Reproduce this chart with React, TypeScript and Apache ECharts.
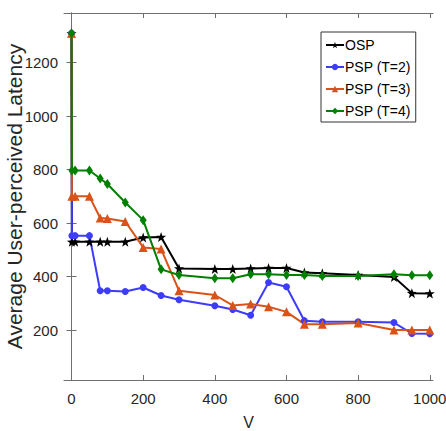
import React, { useEffect, useRef } from "react";
import * as echarts from "echarts";

const vValues = [0, 1, 10, 50, 80, 100, 150, 200, 250, 300, 400, 450, 500, 550, 600, 650, 700, 800, 900, 950, 1000];
const ospValues = [1310, 530, 530, 530, 530, 530, 530, 546, 548, 430, 428, 428, 430, 432, 432, 415, 412, 406, 398, 338, 337];
const psp2Values = [1310, 553, 553, 553, 347, 347, 344, 359, 329, 313, 291, 277, 255, 378, 362, 235, 231, 231, 228, 187, 186];
const psp3Values = [1310, 700, 700, 700, 619, 617, 606, 509, 503, 347, 331, 292, 297, 287, 268, 222, 222, 226, 200, 200, 200];
const psp4Values = [1310, 797, 797, 797, 767, 746, 677, 611, 427, 406, 394, 394, 409, 409, 406, 406, 402, 402, 409, 405, 405];
const seriesNames = ["OSP", "PSP (T=2)", "PSP (T=3)", "PSP (T=4)"];
const xTicks = [0, 200, 400, 600, 800, 1000];
const yTicks = [200, 400, 600, 800, 1000, 1200];

const STAR = "path://M0,-10 L2.35,-3.24 L9.51,-3.09 L3.8,1.24 L5.88,8.09 L0,4 L-5.88,8.09 L-3.8,1.24 L-9.51,-3.09 L-2.35,-3.24 Z";
const FONT = "'Liberation Sans', Arial, Helvetica, sans-serif";
const AXIS_COLOR = "#6f6f6f";

function pairs(ys: number[]) {
  return vValues.map((v, i) => [v, ys[i]]);
}

export default function App() {
  const ref = useRef<HTMLDivElement>(null);
  useEffect(() => {
    document.body.style.margin = "0";
    if (!ref.current) return;
    const chart = echarts.init(ref.current, undefined, { renderer: "svg" });
    const axisLine = { show: true, lineStyle: { color: AXIS_COLOR, width: 1 } };
    const tick = (vals: number[]) => ({ show: true, inside: true, length: 5, customValues: vals, lineStyle: { color: AXIS_COLOR } });
    const fmt = (v: number) => String(v);
    const mk = (name: string, data: number[], color: string, symbol: string, size: any) => ({
      name,
      type: "line",
      data: pairs(data),
      symbol,
      symbolSize: size,
      showSymbol: true,
      lineStyle: { color, width: 2 },
      itemStyle: { color, borderWidth: 0 },
      emphasis: { disabled: true },
    });
    chart.setOption({
      animation: false,
      backgroundColor: "#ffffff",
      grid: { left: 64, right: 13, top: 13, bottom: 51, containLabel: false, outerBoundsMode: "none" },
      legend: {
        orient: "vertical",
        left: 321,
        top: 32,
        padding: [5, 5, 3, 4],
        itemGap: 6,
        itemWidth: 18,
        itemHeight: 8,
        backgroundColor: "#ffffff",
        borderColor: "#333333",
        borderWidth: 1,
        borderRadius: 0,
        textStyle: { fontFamily: FONT, fontSize: 14, color: "#000", padding: [0, 0, 0, -4], lineHeight: 16 },
        data: seriesNames,
      },
      xAxis: [
        {
          type: "value",
          min: -21,
          max: 1009,
          name: "V",
          nameLocation: "middle",
          nameGap: 34,
          nameMoveOverlap: false,
          nameTextStyle: { fontFamily: FONT, fontSize: 16, lineHeight: 16, color: "#262626", verticalAlign: "top" },
          axisLine,
          axisTick: tick(xTicks),
          axisLabel: { customValues: xTicks, formatter: fmt, fontFamily: FONT, fontSize: 15, color: "#262626", margin: 11 },
          splitLine: { show: false },
        },
        {
          type: "value",
          position: "top",
          min: -21,
          max: 1009,
          axisLine,
          axisTick: tick(xTicks),
          axisLabel: { show: false, customValues: xTicks },
          splitLine: { show: false },
        },
      ],
      yAxis: [
        {
          type: "value",
          min: 13,
          max: 1386,
          name: "Average User-perceived Latency",
          nameLocation: "middle",
          nameGap: 39,
          nameMoveOverlap: false,
          nameTextStyle: { fontFamily: FONT, fontSize: 21, color: "#262626" },
          axisLine,
          axisTick: tick(yTicks),
          axisLabel: { customValues: yTicks, formatter: fmt, fontFamily: FONT, fontSize: 15, color: "#262626", margin: 6 },
          splitLine: { show: false },
        },
        {
          type: "value",
          position: "right",
          min: 13,
          max: 1386,
          axisLine,
          axisTick: tick(yTicks),
          axisLabel: { show: false, customValues: yTicks },
          splitLine: { show: false },
        },
      ],
      series: [
        mk(seriesNames[0], ospValues, "#000000", STAR, 10),
        mk(seriesNames[1], psp2Values, "#3c3cfa", "circle", 7),
        mk(seriesNames[2], psp3Values, "#d95319", "triangle", 9),
        mk(seriesNames[3], psp4Values, "#008000", "diamond", [7, 10]),
      ],
    });
    return () => chart.dispose();
  }, []);
  return <div ref={ref} style={{ width: 446, height: 431 }} />;
}
